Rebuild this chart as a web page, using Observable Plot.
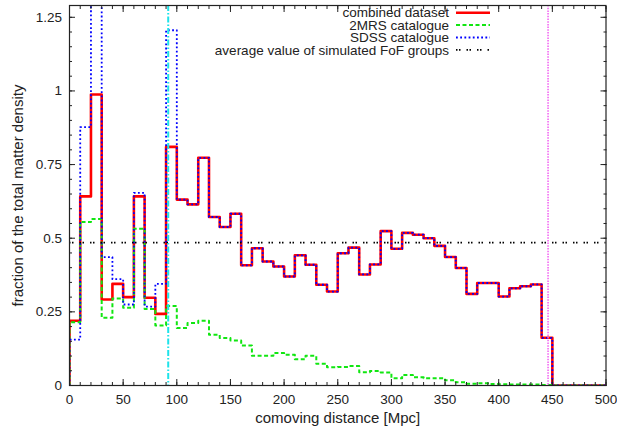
<!DOCTYPE html>
<html>
<head>
<meta charset="utf-8">
<script src="https://cdn.jsdelivr.net/npm/d3@7"></script>
<script src="https://cdn.jsdelivr.net/npm/@observablehq/plot@0.6"></script>
<style>
  html, body { margin: 0; padding: 0; background: #fff; }
  #chart { width: 617px; height: 434px; }
</style>
</head>
<body>
<div id="chart"></div>
<script>
// Bin edges of the histogram (comoving distance, Mpc)
const binEdges = [0,10,20,30,40,50,60,70,80,90,100,110,120,130,140,150,160,170,180,190,
  200,210,220,230,240,250,260,270,280,290,300,310,320,330,340,350,360,370,380,390,
  400,410,420,430,440,450,460,470,480,490,500];

// combined dataset
const combined = [0.22,0.642,0.988,0.292,0.345,0.30,0.642,0.298,0.243,0.81,
  0.631,0.615,0.773,0.572,0.538,0.583,0.408,0.466,0.421,0.404,
  0.37,0.442,0.41,0.342,0.319,0.449,0.468,0.377,0.411,0.524,
  0.464,0.518,0.512,0.50,0.474,0.436,0.399,0.311,0.348,0.348,
  0.302,0.33,0.337,0.343,0.162,0,0,0,0,0];

// 2MRS catalogue
const twoMRS = [0.215,0.555,0.565,0.23,0.295,0.264,0.532,0.26,0.204,0.27,
  0.195,0.212,0.22,0.172,0.161,0.153,0.136,0.101,0.101,0.11,
  0.104,0.089,0.101,0.074,0.062,0.063,0.066,0.045,0.049,0.044,
  0.025,0.036,0.028,0.025,0.025,0.018,0.011,0.006,0.008,0.005,
  0.004,0.003,0.003,0.003,0.002,0,0,0,0,0];

// SDSS catalogue
const sdss = [0.156,0.877,1.5,0.436,0.361,0.275,0.654,0.268,0.345,1.206,
  0.631,0.615,0.773,0.572,0.538,0.583,0.408,0.466,0.421,0.404,
  0.37,0.442,0.41,0.342,0.319,0.449,0.468,0.377,0.411,0.524,
  0.464,0.518,0.512,0.50,0.474,0.436,0.399,0.311,0.348,0.348,
  0.302,0.33,0.337,0.343,0.162,0,0,0,0,0];

// average value of simulated FoF groups
const averageFoF = 0.485;
// vertical markers (Mpc)
const cyanMarker = 92;
const magentaMarker = 446;

const xMajorTicks = [0,50,100,150,200,250,300,350,400,450,500];
const xMinorTicks = binEdges;
const yMajorTicks = [0,0.25,0.5,0.75,1,1.25];
const yMinorTicks = [0,0.05,0.1,0.15,0.2,0.25,0.3,0.35,0.4,0.45,0.5,0.55,0.6,0.65,0.7,0.75,0.8,0.85,0.9,0.95,1,1.05,1.1,1.15,1.2,1.25];
const xDomain = [0, 500];
const yDomain = [0, 1.29];

const legendItems = [
  {label: "combined dataset", stroke: "#ff0000", width: 2.6, dash: null},
  {label: "2MRS catalogue", stroke: "#11e611", width: 2, dash: "4,2.5"},
  {label: "SDSS catalogue", stroke: "#0000ff", width: 1.8, dash: "1.8,2.4"},
  {label: "average value of simulated FoF groups", stroke: "#000000", width: 1.6, dash: "1.5,1.5,1.5,6"}
];

function steps(values) {
  const pts = [{x: binEdges[0], y: 0}];
  values.forEach((v, i) => pts.push({x: binEdges[i], y: v}));
  pts.push({x: binEdges[binEdges.length - 1], y: values[values.length - 1]});
  return pts;
}

const fmt = d => d3.format("")(d);
const FONT = "'Liberation Sans', Arial, Helvetica, sans-serif";

const chart = Plot.plot({
  width: 617,
  height: 434,
  marginLeft: 69,
  marginRight: 11.5,
  marginTop: 5,
  marginBottom: 49,
  x: {domain: xDomain},
  y: {domain: yDomain},
  style: {fontFamily: FONT, fontSize: "13.5px", color: "#222", background: "#fff"},
  marks: [
    Plot.line(steps(combined), {x: "x", y: "y", curve: "step-after", stroke: legendItems[0].stroke, strokeWidth: legendItems[0].width, clip: true}),
    Plot.line(steps(twoMRS), {x: "x", y: "y", curve: "step-after", stroke: legendItems[1].stroke, strokeWidth: legendItems[1].width, strokeDasharray: legendItems[1].dash, strokeLinecap: "butt", clip: true}),
    Plot.line(steps(sdss), {x: "x", y: "y", curve: "step-after", stroke: legendItems[2].stroke, strokeWidth: legendItems[2].width, strokeDasharray: legendItems[2].dash, strokeLinecap: "butt", clip: true}),
    Plot.ruleY([averageFoF], {stroke: legendItems[3].stroke, strokeWidth: legendItems[3].width, strokeDasharray: legendItems[3].dash}),
    Plot.ruleX([cyanMarker], {stroke: "#1ee3ea", strokeWidth: 2, strokeDasharray: "6,2,1.5,2"}),
    Plot.ruleX([magentaMarker], {stroke: "#f25ef2", strokeWidth: 1.5, strokeDasharray: "1.5,1.2"}),
    Plot.frame({stroke: "#222", strokeWidth: 1.2}),
    Plot.axisX({anchor: "bottom", ticks: xMajorTicks, tickSize: -6, tickPadding: 15, tickFormat: fmt, label: null, stroke: "#222"}),
    Plot.axisX({anchor: "bottom", ticks: xMinorTicks, tickSize: -3, tickFormat: () => "", label: null, stroke: "#222"}),
    Plot.axisX({anchor: "top", ticks: xMajorTicks, tickSize: -6, tickFormat: () => "", label: null, stroke: "#222"}),
    Plot.axisX({anchor: "top", ticks: xMinorTicks, tickSize: -3, tickFormat: () => "", label: null, stroke: "#222"}),
    Plot.axisY({anchor: "left", ticks: yMajorTicks, tickSize: -6, tickPadding: 13.5, tickFormat: fmt, label: null, stroke: "#222"}),
    Plot.axisY({anchor: "left", ticks: yMinorTicks, tickSize: -3, tickFormat: () => "", label: null, stroke: "#222"}),
    Plot.axisY({anchor: "right", ticks: yMajorTicks, tickSize: -6, tickFormat: () => "", label: null, stroke: "#222"}),
    Plot.axisY({anchor: "right", ticks: yMinorTicks, tickSize: -3, tickFormat: () => "", label: null, stroke: "#222"}),
    Plot.text(["comoving distance [Mpc]"], {frameAnchor: "bottom", dy: 37, text: d => d, fontSize: 15, fill: "#222"}),
    Plot.text(["fraction of the total matter density"], {frameAnchor: "left", dx: -51, rotate: -90, textAnchor: "middle", text: d => d, fontSize: 15, fill: "#222"})
  ]
});

document.getElementById("chart").appendChild(chart);

// legend drawn inside the plot frame (top-right)
const svg = d3.select(chart);
const lg = svg.append("g").attr("font-family", FONT).attr("font-size", 13.5).attr("fill", "#222");
const legendY0 = 12.7, legendStep = 12.4;
legendItems.forEach((item, i) => {
  const y = legendY0 + i * legendStep;
  lg.append("text").attr("x", 449).attr("y", y).attr("dy", "0.35em").attr("text-anchor", "end").text(item.label);
  lg.append("line").attr("x1", 456).attr("x2", 490).attr("y1", y).attr("y2", y)
    .attr("stroke", item.stroke).attr("stroke-width", item.width)
    .attr("stroke-dasharray", item.dash);
});
</script>
</body>
</html>
